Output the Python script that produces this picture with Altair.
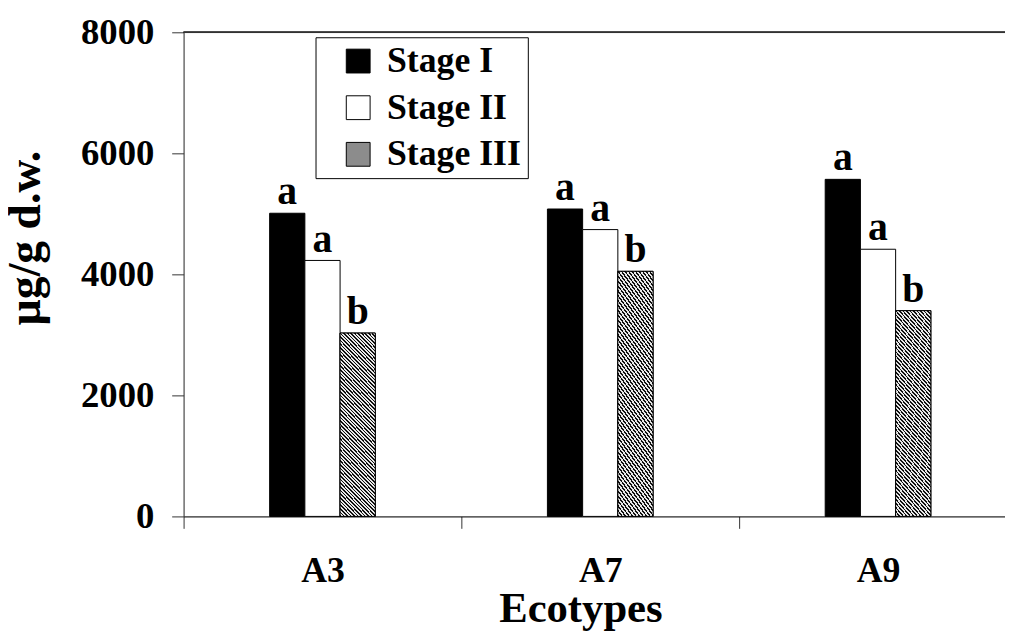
import altair as alt
import pandas as pd

# ---- data ----
ecotypes = ["A3", "A7", "A9"]
stages = ["Stage I", "Stage II", "Stage III"]
stage1 = [5010, 5080, 5570]
stage2 = [4230, 4740, 4415]
stage3 = [3030, 4050, 3400]
letters1 = ["a", "a", "a"]
letters2 = ["a", "a", "a"]
letters3 = ["b", "b", "b"]
y_ticks = [0, 2000, 4000, 6000, 8000]

rows = []
for i, e in enumerate(ecotypes):
    for s, vals, lets in zip(stages, [stage1, stage2, stage3], [letters1, letters2, letters3]):
        rows.append({"Ecotype": e, "Stage": s, "Value": vals[i], "Letter": lets[i]})
df = pd.DataFrame(rows)

FONT = "Liberation Serif"

# hatch pattern built as a striped linear gradient
stops = []
n = 60
for k in range(n):
    a = k / n
    b = (k + 0.45) / n
    c = (k + 1) / n
    stops += [
        alt.GradientStop(offset=a, color="#111111"),
        alt.GradientStop(offset=b, color="#111111"),
        alt.GradientStop(offset=b, color="#e8e8e8"),
        alt.GradientStop(offset=c, color="#e8e8e8"),
    ]
hatch = alt.LinearGradient(gradient="linear", stops=stops, x1=0, y1=1, x2=0.23, y2=-0.15)

# band step of 280 px inside an 828 px wide plot (the reference is cut at the right)
x_enc = alt.X(
    "Ecotype:N",
    sort=ecotypes,
    scale=alt.Scale(paddingInner=12 / 280, paddingOuter=0, align=0),
    axis=alt.Axis(
        title="Ecotypes",
        labelAngle=0,
        bandPosition=0,
        tickOffset=0,
        labelOffset=6,
        tickSize=12,
        labelPadding=26,
        labelFont=FONT,
        labelFontSize=36,
        labelFontWeight="bold",
        labelColor="black",
        titleFont=FONT,
        titleFontSize=43,
        titleFontWeight="bold",
        titleColor="black",
        titleX=400,
        titleY=106,
        titleBaseline="alphabetic",
        titleAlign="center",
        domainColor="black",
        tickColor="#333333",
    ),
)
xoff = alt.XOffset("Stage:N", sort=stages, scale=alt.Scale(range=[86.75, 193.25], paddingInner=0, paddingOuter=0))
y_enc = alt.Y(
    "Value:Q",
    scale=alt.Scale(domain=[0, 8000], nice=False),
    axis=alt.Axis(
        values=y_ticks,
        title="µg/g d.w.",
        format="d",
        grid=False,
        tickSize=12,
        labelPadding=18,
        labelFont=FONT,
        labelFontSize=37,
        labelFontWeight="bold",
        labelColor="black",
        titleFont=FONT,
        titleFontSize=46,
        titleFontWeight="bold",
        titleColor="black",
        titleAngle=270,
        titleX=-145,
        titleY=207,
        titleAlign="center",
        titleBaseline="alphabetic",
        domainColor="#333333",
        tickColor="#333333",
    ),
)

bars = alt.Chart(df).mark_bar(stroke="black", strokeWidth=1).encode(
    x=x_enc,
    xOffset=xoff,
    y=y_enc,
    color=alt.Color(
        "Stage:N",
        sort=stages,
        scale=alt.Scale(domain=stages, range=["#000000", "#ffffff", "#8c8c8c"]),
        legend=alt.Legend(
            title=None,
            orient="none",
            legendX=133,
            legendY=5,
            strokeColor="black",
            fillColor="white",
            padding=6,
            symbolOffset=19,
            symbolType="square",
            symbolSize=576,
            symbolStrokeColor="black",
            symbolStrokeWidth=1,
            labelFont=FONT,
            labelFontSize=36,
            labelFontWeight="bold",
            labelColor="black",
            labelOffset=11,
            rowPadding=11,
            labelLimit=300,
        ),
    ),
)

hatched = alt.Chart(df).transform_filter(
    alt.datum.Stage == "Stage III"
).mark_bar(color=hatch, stroke="black", strokeWidth=1).encode(
    x=alt.X("Ecotype:N", sort=ecotypes),
    xOffset=alt.XOffset("Stage:N", sort=stages),
    y=alt.Y("Value:Q"),
)

labels = alt.Chart(df).mark_text(
    font=FONT, fontSize=40, fontWeight="bold", color="black", baseline="alphabetic", dy=-9
).encode(
    x=alt.X("Ecotype:N", sort=ecotypes),
    xOffset=alt.XOffset("Stage:N", sort=stages),
    y=alt.Y("Value:Q"),
    text="Letter:N",
)

top_line = alt.Chart(df).mark_rule(color="#333333", strokeWidth=1).encode(
    y=alt.datum(8000)
)

chart = (
    alt.layer(bars, hatched, labels, top_line)
    .properties(
        width=828,
        height=488,
        autosize=alt.AutoSizeParams(type="none"),
        padding={"left": 177, "top": 22, "right": 0, "bottom": 113},
    )
    .configure_view(stroke=None)
    .configure(background="white")
)

chart.save("out.html", embed_options={"renderer": "svg", "actions": False})
